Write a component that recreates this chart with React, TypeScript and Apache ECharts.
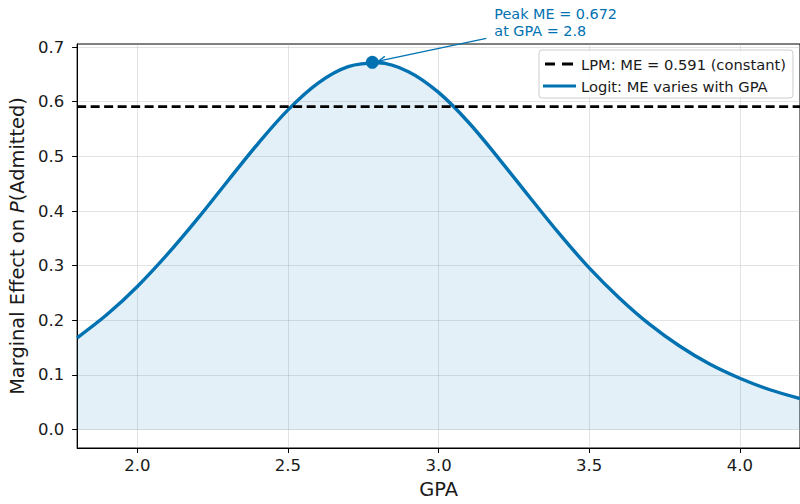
import React, { useEffect, useRef } from "react";
import * as echarts from "echarts";

// ---- data ----
const gpa = [1.8, 1.9, 2.0, 2.1, 2.2, 2.3, 2.4, 2.5, 2.6, 2.7, 2.8, 2.9, 3.0, 3.1, 3.2, 3.3, 3.4, 3.5, 3.6, 3.7, 3.8, 3.9, 4.0, 4.1, 4.2];
const logitME = [0.168, 0.211, 0.262, 0.321, 0.386, 0.455, 0.523, 0.585, 0.634, 0.664, 0.671, 0.655, 0.617, 0.562, 0.496, 0.427, 0.359, 0.296, 0.241, 0.193, 0.153, 0.12, 0.094, 0.073, 0.057];
const lpmME = 0.591;
const peakGPA = 2.78;
const peakME = 0.672;
const xTicks = [2.0, 2.5, 3.0, 3.5, 4.0];
const yTicks = [0.0, 0.1, 0.2, 0.3, 0.4, 0.5, 0.6, 0.7];
const xRange = [1.8, 4.2];
const yRange = [-0.0336, 0.7056];
const lpmName = "LPM: ME = 0.591 (constant)";
const logitName = "Logit: ME varies with GPA";
const annotationText = "Peak ME = 0.672\nat GPA = 2.8";

const BLUE = "#0072B2";
const FONT = "DejaVu Sans";

const DASH_ICON = "path://M0,0H0.01V3H0Z M2,0H12V3H2Z M19,0H30V3H19Z M32.99,0H33V3H32.99Z";
const SOLID_ICON = "path://M0,0H33V3H0Z";

export default function App() {
  const ref = useRef<HTMLDivElement>(null);

  useEffect(() => {
    if (!ref.current) return;
    const chart = echarts.init(ref.current, undefined, { renderer: "svg" });
    const gridColor = "rgba(176,176,176,0.35)";
    const option: any = {
      animation: false,
      backgroundColor: "#ffffff",
      textStyle: { fontFamily: FONT },
      grid: {
        left: 77,
        top: 44,
        right: -3.5,
        bottom: 52.7,
        show: true,
        borderColor: "#000",
        borderWidth: 1,
        backgroundColor: "transparent",
      },
      legend: {
        orient: "vertical",
        left: 539,
        top: 50,
        data: [
          { name: lpmName, icon: DASH_ICON, itemStyle: { color: "#000" } },
          { name: logitName, icon: SOLID_ICON, itemStyle: { color: BLUE } },
        ],
        symbolKeepAspect: false,
        itemWidth: 33,
        itemHeight: 3,
        itemGap: 5,
        padding: [5.5, 7, 3.5, 4],
        backgroundColor: "rgba(255,255,255,0.85)",
        borderColor: "#cccccc",
        borderWidth: 1,
        borderRadius: 3,
        textStyle: { fontFamily: FONT, fontSize: 14.7, color: "#1a1a1a", lineHeight: 17 },
      },
      xAxis: {
        type: "value",
        min: xRange[0],
        max: xRange[1],
        name: "GPA",
        nameLocation: "middle",
        nameGap: 32,
        nameTextStyle: { fontFamily: FONT, fontSize: 19.4, color: "#1a1a1a" },
        axisLine: { show: true, onZero: false, lineStyle: { color: "#000", width: 1 } },
        axisTick: { show: true, inside: false, length: 5, customValues: xTicks, lineStyle: { color: "#000" } },
        axisLabel: {
          customValues: xTicks,
          margin: 9,
          fontFamily: FONT,
          fontSize: 16.5,
          color: "#1a1a1a",
          formatter: (v: number) => v.toFixed(1),
        },
        splitLine: { show: true, lineStyle: { color: gridColor, width: 1 } },
      },
      yAxis: {
        type: "value",
        min: yRange[0],
        max: yRange[1],
        name: "Marginal Effect on {i|P}(Admitted)",
        nameLocation: "middle",
        nameGap: 47,
        nameTextStyle: {
          fontFamily: FONT,
          fontSize: 19.4,
          color: "#1a1a1a",
          rich: { i: { fontFamily: FONT, fontSize: 19.4, fontStyle: "italic", color: "#1a1a1a" } },
        },
        axisLine: { show: true, onZero: false, lineStyle: { color: "#000", width: 1 } },
        axisTick: { show: true, inside: false, length: 5, customValues: yTicks, lineStyle: { color: "#000" } },
        axisLabel: {
          customValues: yTicks,
          margin: 13,
          fontFamily: FONT,
          fontSize: 16.5,
          color: "#1a1a1a",
          formatter: (v: number) => v.toFixed(1),
        },
        splitLine: { show: true, lineStyle: { color: gridColor, width: 1 } },
      },
      series: [
        {
          name: logitName,
          type: "line",
          data: gpa.map((g, i) => [g, logitME[i]]),
          smooth: 0.35,
          symbol: "none",
          showSymbol: false,
          lineStyle: { color: BLUE, width: 3.4 },
          itemStyle: { color: BLUE },
          areaStyle: { color: BLUE, opacity: 0.11, origin: 0 },
          z: 3,
        },
        {
          name: lpmName,
          type: "line",
          data: [[xRange[0], lpmME], [xRange[1], lpmME]],
          symbol: "none",
          showSymbol: false,
          lineStyle: { color: "#000", width: 2.8, type: [9, 4.5] },
          itemStyle: { color: "#000" },
          z: 4,
        },
        {
          name: "peak",
          type: "scatter",
          data: [[peakGPA, peakME]],
          symbol: "circle",
          symbolSize: 13,
          itemStyle: { color: BLUE, opacity: 1 },
          z: 5,
        },
      ],
    };
    chart.setOption(option);

    const p = chart.convertToPixel({ gridIndex: 0 }, [peakGPA, peakME]) as number[];
    const tip = [p[0] + 6, p[1] - 1.3];
    const tail = [p[0] + 114, p[1] - 24];
    const dx = tail[0] - tip[0];
    const dy = tail[1] - tip[1];
    const len = Math.sqrt(dx * dx + dy * dy);
    const ux = dx / len;
    const uy = dy / len;
    const hl = 8;
    const ang = (24 * Math.PI) / 180;
    const rot = (a: number) => [
      tip[0] + hl * (ux * Math.cos(a) - uy * Math.sin(a)),
      tip[1] + hl * (ux * Math.sin(a) + uy * Math.cos(a)),
    ];
    const h1 = rot(ang);
    const h2 = rot(-ang);

    chart.setOption({
      graphic: [
        {
          type: "line",
          shape: { x1: tail[0], y1: tail[1], x2: tip[0], y2: tip[1] },
          style: { stroke: BLUE, lineWidth: 1.3 },
          z: 10,
        },
        {
          type: "polyline",
          shape: { points: [h1, tip, h2] },
          style: { stroke: BLUE, lineWidth: 1.3, fill: null },
          z: 10,
        },
        {
          type: "text",
          x: p[0] + 122,
          y: p[1] - 56.4,
          style: {
            text: annotationText,
            fontFamily: FONT,
            fontSize: 14.4,
            lineHeight: 16.7,
            fill: BLUE,
            textAlign: "left",
            textVerticalAlign: "top",
          },
          z: 10,
        },
      ],
    });

    return () => chart.dispose();
  }, []);

  return (
    <div
      ref={ref}
      style={{ position: "fixed", left: 0, top: 0, width: 800, height: 504, background: "#fff" }}
    />
  );
}
